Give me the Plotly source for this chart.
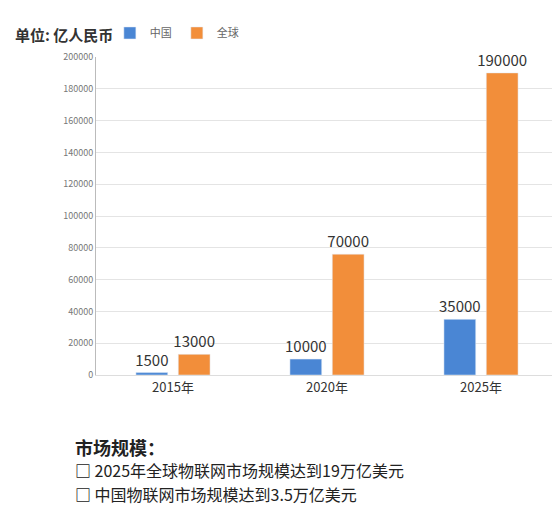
import plotly.graph_objects as go

years = ["2015年", "2020年", "2025年"]
china = [1500, 10000, 35000]
world = [13000, 76000, 190000]
china_labels = ["1500", "10000", "35000"]
world_labels = ["13000", "70000", "190000"]
ticks = list(range(0, 200001, 20000))

fig = go.Figure()
fig.add_bar(x=years, y=china, name="中国", marker_color="#4a86d4",
            text=china_labels, textposition="outside", cliponaxis=False,
            constraintext="none", textfont=dict(size=15, color="#333"))
fig.add_bar(x=years, y=world, name="全球", marker_color="#f28e3a",
            text=world_labels, textposition="outside", cliponaxis=False,
            constraintext="none", textfont=dict(size=15, color="#333"))
fig.update_layout(
    width=560, height=528, paper_bgcolor="white", plot_bgcolor="white",
    margin=dict(l=88, r=10, t=27, b=161),
    font=dict(family="Noto Sans CJK SC", color="#444"),
    barmode="group", bargap=0.45, bargroupgap=0.25,
    legend=dict(orientation="h", x=0.03, y=1.03, yanchor="bottom", xanchor="left",
                font=dict(size=11, color="#666"), itemwidth=30),
    yaxis=dict(range=[0, 200000], tickvals=ticks, ticktext=[str(t) for t in ticks],
               tickfont=dict(size=9, color="#777"), gridcolor="#e4e4e4",
               showline=True, linecolor="#bbb", zeroline=False),
    xaxis=dict(tickfont=dict(size=13, color="#333"), showline=True, linecolor="#ddd"),
)
fig.add_annotation(xref="paper", yref="paper", x=-0.18, y=1.07, xanchor="left", yanchor="middle",
                   text="<b>单位: 亿人民币</b>", showarrow=False, font=dict(size=15, color="#333"))
fig.add_annotation(xref="paper", yref="paper", x=-0.05, y=-0.225, xanchor="left", yanchor="middle",
                   text="<b>市场规模：</b>", showarrow=False, font=dict(size=18, color="#222"))
fig.add_annotation(xref="paper", yref="paper", x=-0.05, y=-0.30, xanchor="left", yanchor="middle",
                   text="<b>□</b> 2025年全球物联网市场规模达到19万亿美元", showarrow=False,
                   font=dict(size=16, color="#222"))
fig.add_annotation(xref="paper", yref="paper", x=-0.05, y=-0.375, xanchor="left", yanchor="middle",
                   text="<b>□</b> 中国物联网市场规模达到3.5万亿美元", showarrow=False,
                   font=dict(size=16, color="#222"))
fig.write_html("out.html")
